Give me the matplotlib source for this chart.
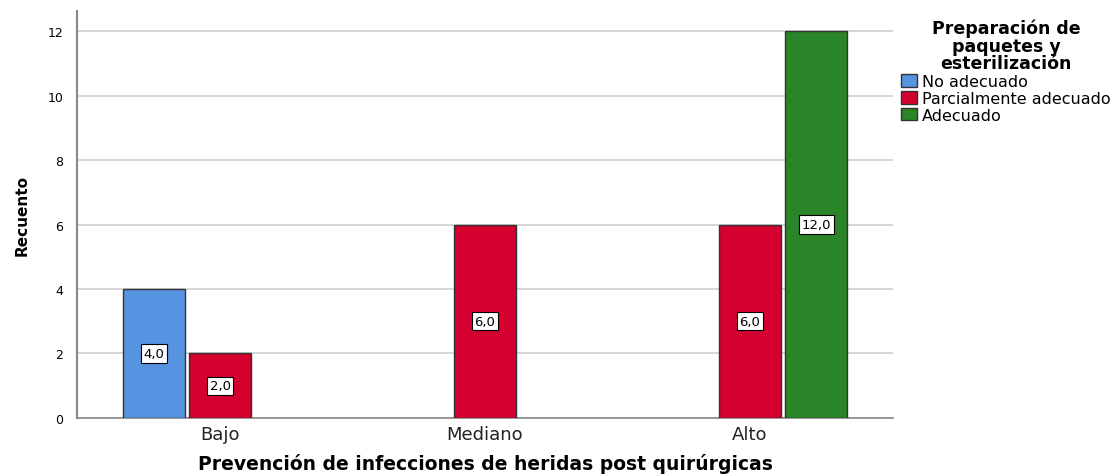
import numpy as np
import matplotlib.pyplot as plt
from matplotlib.patches import Patch

categories = ['Bajo', 'Mediano', 'Alto']
series_names = ['No adecuado', 'Parcialmente adecuado', 'Adecuado']
no_adecuado = [4, 0, 0]
parcial = [2, 6, 6]
adecuado = [0, 0, 12]
colors = ['#5693E1', '#D4002F', '#2A8529']

fig = plt.figure(figsize=(11.14, 4.77), dpi=100)
ax = fig.add_axes([0.0691, 0.1216, 0.7325, 0.8532])

x = np.arange(len(categories))
slot = 0.25
width = 0.235
for i, (vals, col) in enumerate(zip([no_adecuado, parcial, adecuado], colors)):
    pos = x + (i - 1) * slot
    for p, v in zip(pos, vals):
        if v == 0:
            continue
        ax.bar(p, v, width=width, color=col, edgecolor='#333333', linewidth=1.0, zorder=3)
        ax.text(p, v / 2, f'{v:.1f}'.replace('.', ','), ha='center', va='center',
                fontsize=9.5, zorder=4,
                bbox=dict(boxstyle='square,pad=0.2', fc='white', ec='black', lw=0.8))

ax.set_xlim(-0.54, 2.54)
ax.set_ylim(0, 12.62)
ax.set_yticks(range(0, 13, 2))
ax.set_xticks(x)
ax.set_xticklabels(categories, fontsize=13, color='#222222')
ax.tick_params(axis='y', labelsize=9, length=0, pad=10)
ax.tick_params(axis='x', length=0, pad=5)
ax.yaxis.grid(True, color='#d0d0d0', linewidth=1.2, zorder=0)
ax.set_axisbelow(True)
for s in ['top', 'right']:
    ax.spines[s].set_visible(False)
ax.spines['left'].set_color('#888888')
ax.spines['left'].set_linewidth(1.5)
ax.spines['bottom'].set_color('#888888')
ax.spines['bottom'].set_linewidth(1.2)

ax.set_xlabel('Prevención de infecciones de heridas post quirúrgicas',
              fontsize=13.5, fontweight='bold', labelpad=7)
ax.set_ylabel('Recuento', fontsize=11, fontweight='bold', labelpad=13)

handles = [Patch(facecolor=c, edgecolor='#333333', label=n) for c, n in zip(colors, series_names)]
leg = fig.legend(handles=handles, loc='upper left', bbox_to_anchor=(0.8035, 0.972),
                 title='Preparación de\npaquetes y\nesterilización', frameon=False,
                 fontsize=11.5, title_fontproperties={'weight': 'bold', 'size': 12.5},
                 handlelength=1.0, handleheight=0.85, handletextpad=0.3,
                 labelspacing=0.12, borderaxespad=0)
leg._legend_box.align = 'center'
leg.get_title().set_multialignment('center')
leg.get_title().set_linespacing(0.95)

fig.savefig('out.png', dpi=100)
